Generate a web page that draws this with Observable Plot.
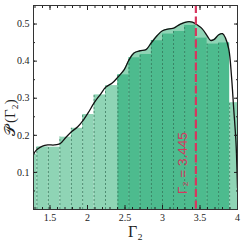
<!DOCTYPE html>
<html><head><meta charset="utf-8">
<script src="https://cdn.jsdelivr.net/npm/d3@7"></script>
<script src="https://cdn.jsdelivr.net/npm/@observablehq/plot@0.6"></script>
<style>body{margin:0;background:#fff}</style>
</head><body><div id="chart"></div>
<script>
const binEdges = [1.17, 1.325, 1.478, 1.632, 1.785, 1.935, 2.088, 2.24, 2.405, 2.553, 2.702, 2.852, 3.0, 3.147, 3.295, 3.445, 3.595, 3.748, 3.895, 4.05];
const binHeights = [0.149, 0.169, 0.168, 0.195, 0.219, 0.256, 0.309, 0.334, 0.363, 0.409, 0.418, 0.455, 0.473, 0.48, 0.496, 0.462, 0.446, 0.449, 0.288];
const curveX = [1.283,1.327,1.40,1.47,1.56,1.637,1.71,1.79,1.87,1.934,2.01,2.09,2.17,2.245,2.33,2.41,2.49,2.555,2.62,2.70,2.78,2.85,2.93,3.00,3.09,3.15,3.24,3.33,3.40,3.46,3.53,3.60,3.64,3.685,3.75,3.80,3.84,3.885,3.92,3.95,3.98,4.0];
const curveY = [0.151,0.162,0.171,0.174,0.174,0.178,0.194,0.21,0.223,0.238,0.261,0.288,0.31,0.33,0.341,0.358,0.377,0.404,0.422,0.428,0.431,0.449,0.469,0.482,0.487,0.489,0.50,0.506,0.505,0.498,0.487,0.467,0.456,0.458,0.471,0.474,0.462,0.431,0.359,0.27,0.18,0.059];
const hiRange = [2.405, 3.895];
const markValue = 3.445;
const xTicks = [1.5, 2, 2.5, 3, 3.5, 4];
const yTicks = [0.1, 0.2, 0.3, 0.4, 0.5];

const bins = binHeights.map((h, i) => ({x1: binEdges[i], x2: binEdges[i+1], h, hi: binEdges[i] >= hiRange[0] - 1e-6 && binEdges[i+1] <= hiRange[1] + 1e-6}));
const curve = curveX.map((x, i) => ({x, y: curveY[i]}));
const hiCurve = curve.filter(d => d.x >= hiRange[0] - 0.01 && d.x <= hiRange[1]);
const xMinor = d3.range(1.3, 4.001, 0.1).map(v => +v.toFixed(2));
const yMinor = d3.range(0.05, 0.551, 0.05).map(v => +v.toFixed(2));

const light = "#8fd4b5", dark = "#4dbb8e", serif = "Liberation Serif, serif";
const fmt = d => String(d);
const yLabelParts = [{t: "𝒫", y: 0.198}, {t: "(Γ₂)", y: 0.233}];
const plot = Plot.plot({
  width: 245, height: 243,
  marginLeft: 33, marginRight: 8, marginTop: 5, marginBottom: 34,
  x: {domain: [1.28, 4]},
  y: {domain: [0, 0.55]},
  style: {fontFamily: serif, fontSize: "10px", color: "#222", background: "#fff"},
  marks: [
    Plot.rectY(bins, {x1: "x1", x2: "x2", y1: 0, y2: "h", fill: light, clip: true}),
    Plot.areaY(hiCurve, {x: "x", y: "y", fill: light, curve: "catmull-rom"}),
    Plot.rectY(bins.filter(d => d.hi), {x1: "x1", x2: "x2", y1: 0, y2: "h", fill: dark}),
    Plot.ruleX(bins.filter(d => d.x1 > 1.28), {x: "x1", y1: 0, y2: "h", stroke: "#2f6b52", strokeOpacity: 0.85, strokeWidth: 0.8, strokeDasharray: "2,2"}),
    Plot.line(curve, {x: "x", y: "y", stroke: "#111", strokeWidth: 1.3, curve: "catmull-rom", clip: true}),
    Plot.ruleX([markValue], {stroke: "#d8365f", strokeWidth: 2.2, strokeDasharray: "8,3.5"}),
    Plot.text([markValue], {x: d => d, y: 0.125, dx: -13, rotate: -90, text: d => `Γ₂ = ${d}`, fill: "#d8365f", fontSize: 13.5, fontFamily: "Liberation Sans, Arial, sans-serif"}),
    Plot.axisX(xTicks, {anchor: "bottom", tickSize: -4, tickPadding: 8, tickFormat: fmt, label: null, fontSize: 10}),
    Plot.axisX(xMinor, {anchor: "bottom", tickSize: -2, text: null, label: null}),
    Plot.axisX(xTicks, {anchor: "top", tickSize: -4, text: null, label: null}),
    Plot.axisX(xMinor, {anchor: "top", tickSize: -2, text: null, label: null}),
    Plot.axisY(yTicks, {anchor: "left", tickSize: -4, tickPadding: 8, tickFormat: fmt, label: null, fontSize: 10}),
    Plot.axisY(yMinor, {anchor: "left", tickSize: -2, text: null, label: null}),
    Plot.axisY(yTicks, {anchor: "right", tickSize: -4, text: null, label: null}),
    Plot.axisY(yMinor, {anchor: "right", tickSize: -2, text: null, label: null}),
    Plot.frame({stroke: "#333", strokeWidth: 1}),
    Plot.text(["Γ₂"], {frameAnchor: "bottom", dy: 27, text: d => d, fontSize: 16, fontFamily: serif, fill: "#222"}),
    Plot.text(yLabelParts, {y: "y", text: "t", frameAnchor: "left", dx: -23, rotate: -90, textAnchor: "start", fontSize: 15, fontFamily: serif, fill: "#222"})
  ]
});
document.getElementById("chart").append(plot);
</script>
</body></html>
